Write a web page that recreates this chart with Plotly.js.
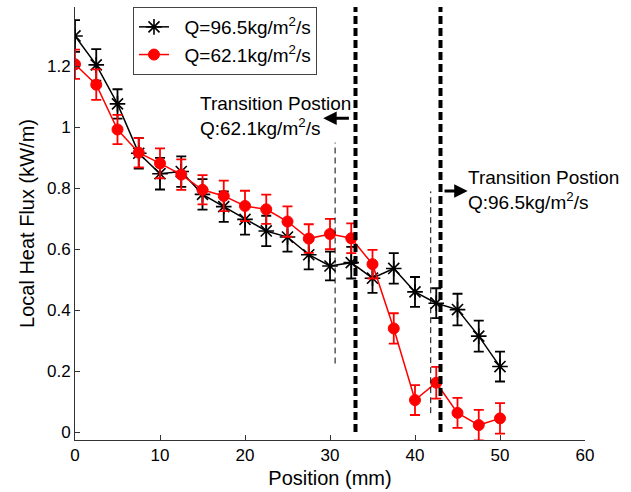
<!DOCTYPE html>
<html>
<head>
<meta charset="utf-8">
<script src="https://cdn.plot.ly/plotly-3.0.1.min.js"></script>
<style>
  html, body { margin: 0; padding: 0; background: #fff; }
  #chart { width: 631px; height: 492px; }
</style>
</head>
<body>
<div id="chart"></div>
<script>
// Measurement positions along the channel (mm)
const position = [0, 2.5, 5, 7.5, 10, 12.5, 15, 17.5, 20, 22.5, 25, 27.5, 30, 32.5, 35, 37.5, 40, 42.5, 45, 47.5, 50];

// Local heat flux (kW/m), mass flux 96.5 kg/m2/s
const fluxHigh = [1.30, 1.205, 1.077, 0.915, 0.848, 0.855, 0.78, 0.74, 0.698, 0.66, 0.64, 0.582, 0.545, 0.556, 0.505, 0.537, 0.46, 0.423, 0.402, 0.315, 0.215];
const errHigh  = [0.052, 0.052, 0.048, 0.05, 0.052, 0.05, 0.05, 0.05, 0.05, 0.05, 0.048, 0.048, 0.047, 0.052, 0.048, 0.05, 0.049, 0.049, 0.052, 0.051, 0.049];

// Local heat flux (kW/m), mass flux 62.1 kg/m2/s
const fluxLow = [1.207, 1.14, 0.993, 0.917, 0.882, 0.845, 0.795, 0.775, 0.742, 0.731, 0.691, 0.635, 0.65, 0.636, 0.551, 0.34, 0.105, 0.162, 0.063, 0.023, 0.045];
const errLow  = [0.048, 0.05, 0.048, 0.048, 0.049, 0.05, 0.048, 0.05, 0.05, 0.048, 0.05, 0.047, 0.05, 0.049, 0.047, 0.05, 0.049, 0.052, 0.049, 0.05, 0.05];

// Transition positions (mm) and the guide lines near them
const transitionLow = 33;
const transitionHigh = 43;
const guideLow = { x: 30.6, from: 0.225, to: 0.95 };
const guideHigh = { x: 41.85, from: 0.062, to: 0.79 };

const seriesNames = ['Q=96.5kg/m<sup>2</sup>/s', 'Q=62.1kg/m<sup>2</sup>/s'];
const xTicks = [0, 10, 20, 30, 40, 50, 60];
const yTicks = [0, 0.2, 0.4, 0.6, 0.8, 1, 1.2];

const FONT = 'Liberation Sans, Arial, Helvetica, sans-serif';
const LEGEND_GAP = '\u00a0\u00a0';

const traces = [
  {
    x: position, y: fluxHigh, name: LEGEND_GAP + seriesNames[0],
    type: 'scatter', mode: 'lines+markers',
    line: { color: '#000', width: 1.5 },
    marker: { symbol: 'asterisk-open', size: 13, color: '#000', line: { color: '#000', width: 1.6 } },
    error_y: { type: 'data', array: errHigh, visible: true, color: '#000', thickness: 1.8, width: 5 }
  },
  {
    x: position, y: fluxLow, name: LEGEND_GAP + seriesNames[1],
    type: 'scatter', mode: 'lines+markers',
    line: { color: '#ff0000', width: 1.5 },
    marker: { symbol: 'circle', size: 11, color: '#ff0000', line: { color: '#ff0000', width: 1 } },
    error_y: { type: 'data', array: errLow, visible: true, color: '#ff0000', thickness: 1.8, width: 5 }
  }
];

const yTop = 1.395;
const shapes = [
  { type: 'line', xref: 'x', yref: 'y', x0: transitionLow, x1: transitionLow, y0: 0, y1: yTop,
    line: { color: '#000', width: 4, dash: '8px,4px' } },
  { type: 'line', xref: 'x', yref: 'y', x0: transitionHigh, x1: transitionHigh, y0: 0, y1: yTop,
    line: { color: '#000', width: 4, dash: '8px,4px' } },
  { type: 'line', xref: 'x', yref: 'y', x0: guideLow.x, x1: guideLow.x, y0: guideLow.from, y1: guideLow.to,
    line: { color: '#000', width: 1, dash: '6px,4px' } },
  { type: 'line', xref: 'x', yref: 'y', x0: guideHigh.x, x1: guideHigh.x, y0: guideHigh.from, y1: guideHigh.to,
    line: { color: '#000', width: 1, dash: '6px,4px' } }
];

const annotations = [
  { x: 14.5, y: 1.038, xref: 'x', yref: 'y', xanchor: 'left', yanchor: 'middle', align: 'left',
    text: 'Transition Postion<br>Q:62.1kg/m<sup>2</sup>/s', showarrow: false,
    font: { family: FONT, size: 19, color: '#000' } },
  { x: 45.95, y: 0.793, xref: 'x', yref: 'y', xanchor: 'left', yanchor: 'middle', align: 'left',
    text: 'Transition Postion<br>Q:96.5kg/m<sup>2</sup>/s', showarrow: false,
    font: { family: FONT, size: 19, color: '#000' } },
  // arrow pointing left from the 62.1 transition line
  { x: 29.2, y: 1.03, ax: 32.4, ay: 1.03, xref: 'x', yref: 'y', axref: 'x', ayref: 'y',
    text: '', showarrow: true, arrowhead: 2, arrowsize: 0.9, arrowwidth: 3, arrowcolor: '#000' },
  // arrow pointing right from the 96.5 transition line
  { x: 46.2, y: 0.791, ax: 43.3, ay: 0.791, xref: 'x', yref: 'y', axref: 'x', ayref: 'y',
    text: '', showarrow: true, arrowhead: 2, arrowsize: 0.9, arrowwidth: 3, arrowcolor: '#000' }
];

const axisCommon = {
  showline: true, linecolor: '#333', linewidth: 1, mirror: false,
  ticks: 'inside', ticklen: 5, tickcolor: '#333', tickwidth: 1,
  showgrid: false, zeroline: false,
  tickfont: { family: FONT, size: 17, color: '#000' },
  automargin: false
};

const layout = {
  width: 631, height: 492,
  margin: { l: 75, r: 46, t: 7, b: 52, pad: 0 },
  paper_bgcolor: '#fff', plot_bgcolor: '#fff',
  font: { family: FONT, color: '#000' },
  showlegend: true,
  legend: {
    x: 0.1137, y: 1, xanchor: 'left', yanchor: 'top',
    bgcolor: '#fff', bordercolor: '#444', borderwidth: 1,
    font: { family: FONT, size: 19, color: '#000' },
    traceorder: 'normal'
  },
  xaxis: Object.assign({}, axisCommon, {
    range: [0, 60], tickvals: xTicks,
    title: { text: 'Position (mm)', font: { family: FONT, size: 20, color: '#000' }, standoff: 6 }
  }),
  yaxis: Object.assign({}, axisCommon, {
    range: [-0.026, yTop], tickvals: yTicks,
    title: { text: 'Local Heat Flux (kW/m)', font: { family: FONT, size: 20, color: '#000' }, standoff: 6 }
  }),
  shapes: shapes,
  annotations: annotations
};

Plotly.newPlot('chart', traces, layout, { displayModeBar: false, staticPlot: true });
</script>
</body>
</html>
